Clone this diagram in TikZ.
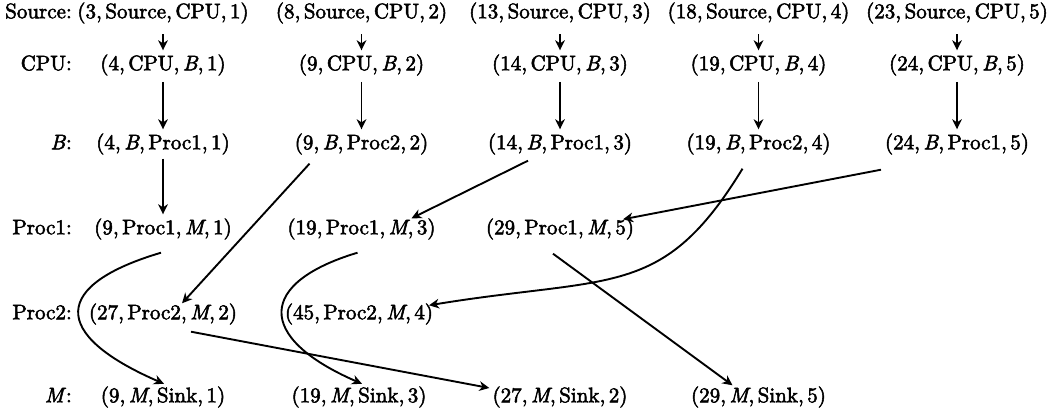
\documentclass[tikz,border=0pt]{standalone}
\usepackage{fontspec}
\setmainfont{lmroman10-regular.otf}[ItalicFont=lmroman10-italic.otf, FakeBold=2.5]
\usetikzlibrary{arrows.meta,calc}
\newcommand{\tpl}[4]{(#1,\,#2,\,#3,\,#4)}
\begin{document}
\begin{tikzpicture}[x=0.4762pt,y=-0.4762pt,
  tup/.style={inner xsep=2pt,inner ysep=2pt,outer sep=0pt,text height=7.5pt,text depth=2.5pt,anchor=center},
  lab/.style={tup,anchor=east},
  arr/.style={line width=0.9pt,-{Stealth[length=4.8pt,width=4.6pt,inset=1.5pt]}}]
\useasboundingbox (0,0) rectangle (1064,412);
% row labels
\node[lab] (lsrc) at (76,13)  {Source:};
\node[lab] (lcpu) at (76,65)  {CPU:};
\node[lab] (lb)   at (76,144) {\textit{B}:};
\node[lab] (lp1)  at (76,229) {Proc1:};
\node[lab] (lp2)  at (76,314) {Proc2:};
\node[lab] (lm)   at (76,397) {\textit{M}:};
% Source row
\node[tup] (s1) at (163,13)   {\tpl{3}{Source}{CPU}{1}};
\node[tup] (s2) at (361.5,13) {\tpl{8}{Source}{CPU}{2}};
\node[tup] (s3) at (560,13)   {\tpl{13}{Source}{CPU}{3}};
\node[tup] (s4) at (758.5,13) {\tpl{18}{Source}{CPU}{4}};
\node[tup] (s5) at (957,13)   {\tpl{23}{Source}{CPU}{5}};
% CPU row
\node[tup] (c1) at (163,65)   {\tpl{4}{CPU}{\textit{B}}{1}};
\node[tup] (c2) at (361.5,65) {\tpl{9}{CPU}{\textit{B}}{2}};
\node[tup] (c3) at (560,65)   {\tpl{14}{CPU}{\textit{B}}{3}};
\node[tup] (c4) at (758.5,65) {\tpl{19}{CPU}{\textit{B}}{4}};
\node[tup] (c5) at (957,65)   {\tpl{24}{CPU}{\textit{B}}{5}};
% B row
\node[tup] (b1) at (163,144)   {\tpl{4}{\textit{B}}{Proc1}{1}};
\node[tup] (b2) at (361.5,144) {\tpl{9}{\textit{B}}{Proc2}{2}};
\node[tup] (b3) at (560,144)   {\tpl{14}{\textit{B}}{Proc1}{3}};
\node[tup] (b4) at (758.5,144) {\tpl{19}{\textit{B}}{Proc2}{4}};
\node[tup] (b5) at (957,144)   {\tpl{24}{\textit{B}}{Proc1}{5}};
% Proc1 row
\node[tup] (pa) at (163,229)   {\tpl{9}{Proc1}{\textit{M}}{1}};
\node[tup] (pb) at (361.5,229) {\tpl{19}{Proc1}{\textit{M}}{3}};
\node[tup] (pc) at (560,229)   {\tpl{29}{Proc1}{\textit{M}}{5}};
% Proc2 row
\node[tup] (qa) at (163,314)   {\tpl{27}{Proc2}{\textit{M}}{2}};
\node[tup] (qb) at (359,314)   {\tpl{45}{Proc2}{\textit{M}}{4}};
% M row
\node[tup] (ma) at (163,397)   {\tpl{9}{\textit{M}}{Sink}{1}};
\node[tup] (mb) at (359,397)   {\tpl{19}{\textit{M}}{Sink}{3}};
\node[tup] (mc) at (560,397)   {\tpl{27}{\textit{M}}{Sink}{2}};
\node[tup] (md) at (758.5,397) {\tpl{29}{\textit{M}}{Sink}{5}};
% Source -> CPU -> B
\foreach \i in {1,...,5}{
  \draw[arr,shorten <=3pt] (c\i.north |- s\i.south) -- (c\i.north);
  \draw[arr,shorten <=1pt] (c\i.south) -- (b\i.north);
}
% B -> Proc
\draw[arr] (b1.south) -- (pa.north);
\draw[arr] ($(b2.south)+(-52,5)$) -- ($(qa.north)+(19,4)$);
\draw[arr] ($(b3.south)+(-32,2)$) -- ($(pb.north)+(50,4)$);
\draw[arr] ($(b4.south)+(-16,10)$) .. controls +(-80,131) and +(183,-30) .. ($(qb.north)+(70,6)$);
\draw[arr] ($(b5.south)+(-76,11)$) -- ($(pc.north)+(63,5)$);
% Proc -> M
\draw[arr] ($(pa.south)+(-2,9)$) .. controls +(-108,32) and +(-115,-50) .. ($(ma.north)+(1,1.5)$);
\draw[arr] ($(pb.south)+(-4,9)$) .. controls +(-98.8,29.6) and +(-108,-47) .. ($(mb.north)+(3,1.5)$);
\draw[arr] ($(qa.south)+(28,3)$) -- ($(mc.west)+(1,-9)$);
\draw[arr] ($(pc.south)+(-7,10)$) -- ($(md.north)+(-26,3)$);
\end{tikzpicture}
\end{document}
